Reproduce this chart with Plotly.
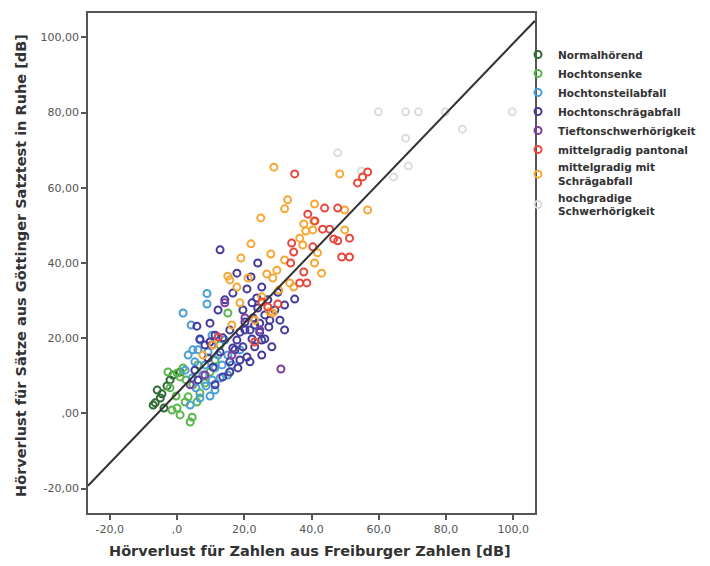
import plotly.graph_objects as go

# ---------------- data ----------------
groups = ["Normalhörend", "Hochtonsenke", "Hochtonsteilabfall", "Hochtonschrägabfall",
          "Tieftonschwerhörigkeit", "mittelgradig pantonal", "mittelgradig mit<br>Schrägabfall",
          "hochgradige<br>Schwerhörigkeit"]
colors = ["#2F6B35", "#5BB64C", "#4A9ED8", "#433A9B", "#7D3E9E", "#E8473D", "#F6A835", "#DCDCDC"]

normal_x = [-5.9, -4.5, -6.5, -3.9, -2.1, -1.2, -5.0, -7.1, -3.0, 0.9]
normal_y = [6.2, 5.2, 2.8, 1.4, 8.9, 10.2, 4.1, 2.2, 7.3, 11.0]

senke_x = [0.0, 1.8, 0.9, -2.1, 3.3, -1.5, 0.0, 4.5, 3.9, 0.9, 5.9, 2.4, 6.8, 8.3, 15.1,
           4.7, 9.8, 11.3, 6.2, 2.7, -0.3, -2.7, 12.8]
senke_y = [10.7, 12.1, 9.7, 6.8, 4.4, 0.9, 1.4, -1.0, -2.3, -0.4, 3.0, 3.0, 5.4, 8.1, 26.7,
           7.6, 11.0, 14.2, 12.9, 8.9, 4.6, 11.0, 18.2]

steil_x = [8.9, 8.9, 1.8, 4.2, 4.7, 6.8, 10.4, 14.2, 3.3, 6.2, 9.2, 12.2, 5.3, 8.3, 11.3,
           13.4, 2.4, 4.5, 7.7, 10.4, 12.8, 5.6, 8.6, 11.3, 6.8, 9.8, 3.9, 15.1, 16.3, 18.7, 15.1]
steil_y = [31.9, 29.1, 26.7, 23.5, 16.9, 19.5, 20.8, 19.5, 15.5, 16.9, 16.3, 15.5, 13.7, 12.9, 12.1,
           12.9, 11.5, 9.4, 10.2, 8.9, 9.4, 6.8, 7.3, 6.2, 4.1, 4.6, 2.2, 10.2, 12.9, 16.9, 15.5]

schraeg_x = [12.8, 24.0, 35.0, 17.8, 20.8, 16.6, 23.7, 22.3, 19.6, 24.0, 26.1, 22.6, 24.6, 20.2,
             21.7, 24.6, 27.3, 18.7, 15.7, 9.8, 5.9, 6.8, 13.6, 17.8, 22.3, 26.1, 28.2, 23.1,
             19.6, 12.8, 15.7, 10.7, 18.1, 13.6, 9.2, 20.8, 18.7, 15.7, 25.2, 27.6, 30.6, 32.0,
             29.1, 27.0, 30.0, 32.0, 11.3, 8.3, 5.3, 20.2, 23.1, 25.2, 21.7, 12.2, 14.2, 9.8,
             17.2, 6.2, 11.3, 16.6, 25.2, 22.0]
schraeg_y = [43.5, 40.0, 30.4, 37.3, 33.1, 32.0, 30.7, 29.4, 27.5, 28.0, 26.2, 25.4, 24.0, 24.3,
             22.2, 21.6, 23.0, 21.6, 22.2, 24.0, 23.2, 19.8, 20.1, 19.5, 19.8, 19.8, 17.7, 17.7,
             17.7, 16.3, 13.7, 12.3, 12.1, 9.7, 14.7, 15.0, 14.2, 11.0, 19.5, 24.8, 24.8, 22.2,
             27.5, 30.2, 32.2, 28.8, 20.8, 18.2, 11.5, 22.2, 23.5, 15.5, 13.7, 27.5, 30.2, 19.0,
             16.9, 8.9, 7.6, 17.4, 33.6, 36.3]

tief_x = [14.2, 30.9, 16.3, 10.4, 20.2, 3.9, 8.3, 24.6]
tief_y = [29.4, 11.8, 15.5, 18.2, 25.4, 7.6, 10.2, 22.2]

panton_x = [35.0, 56.7, 55.2, 53.7, 43.9, 47.8, 38.9, 41.0, 43.3, 45.4, 46.6, 47.8, 51.3, 34.1,
            40.4, 34.7, 49.0, 51.3, 33.8, 37.7, 38.6, 36.5, 30.0, 27.0, 12.2, 25.2, 23.1]
panton_y = [63.7, 64.2, 62.9, 61.3, 54.6, 54.6, 53.0, 51.2, 49.0, 49.0, 46.4, 45.9, 46.6, 45.3,
            44.3, 42.9, 41.6, 41.6, 40.0, 37.6, 34.7, 34.7, 29.1, 28.3, 20.3, 29.6, 19.0]

mitschr_x = [28.8, 48.4, 32.9, 32.0, 24.9, 40.9, 49.9, 56.7, 37.7, 40.7, 38.3, 40.4, 49.9, 36.5,
             37.4, 41.8, 22.0, 27.9, 19.0, 32.0, 40.9, 43.0, 29.7, 26.7, 15.1, 21.1, 28.5, 33.5,
             34.7, 30.3, 17.8, 18.7, 25.2, 28.5, 15.7, 7.7, 27.6, 23.1, 16.3, 10.7]
mitschr_y = [65.5, 63.7, 56.8, 54.4, 52.0, 55.7, 54.1, 54.1, 50.4, 51.2, 48.5, 48.8, 48.8, 46.6,
             44.8, 42.7, 45.1, 42.4, 41.3, 40.8, 40.0, 37.3, 38.1, 37.1, 36.5, 36.0, 36.0, 34.7,
             33.6, 32.8, 33.6, 29.4, 31.0, 26.7, 35.5, 15.5, 27.0, 24.8, 23.5, 18.2]

hoch_x = [59.9, 68.0, 71.8, 79.8, 99.7, 84.9, 68.0, 47.8, 68.8, 64.4, 54.9]
hoch_y = [80.2, 80.2, 80.2, 80.2, 80.2, 75.6, 73.2, 69.3, 65.8, 62.9, 64.5]

xs = [normal_x, senke_x, steil_x, schraeg_x, tief_x, panton_x, mitschr_x, hoch_x]
ys = [normal_y, senke_y, steil_y, schraeg_y, tief_y, panton_y, mitschr_y, hoch_y]

fit_intercept = 5.4
fit_slope = 0.93

x_ticks = [-20, 0, 20, 40, 60, 80, 100]
x_ticktext = ["-20,0", ",0", "20,0", "40,0", "60,0", "80,0", "100,0"]
y_ticks = [-20, 0, 20, 40, 60, 80, 100]
y_ticktext = ["-20,00", ",00", "20,00", "40,00", "60,00", "80,00", "100,00"]
axis_range = [-26.5, 106.5]

FONT = "DejaVu Sans, Liberation Sans, Arial"

# ---------------- figure ----------------
fig = go.Figure()
draw_order = [7, 0, 1, 2, 3, 4, 6, 5]
for i in range(len(groups)):
    fig.add_trace(go.Scatter(
        x=xs[i], y=ys[i], mode="markers", name=groups[i],
        marker=dict(symbol="circle-open", size=7, color=colors[i],
                    line=dict(width=2, color=colors[i])),
        legendrank=i + 1,
    ))
fig.data = tuple(fig.data[j] for j in draw_order)

fig.add_trace(go.Scatter(
    x=axis_range, y=[fit_intercept + fit_slope * v for v in axis_range],
    mode="lines", line=dict(color="#333333", width=2), showlegend=False,
    hoverinfo="skip"))

axis_common = dict(
    range=axis_range, showgrid=False, zeroline=False, showline=True, mirror=True,
    linecolor="#555555", linewidth=1.5, ticks="outside", ticklen=5, tickwidth=1.5,
    tickcolor="#555555", tickfont=dict(family=FONT, size=11, color="#555555"),
)
fig.update_xaxes(tickvals=x_ticks, ticktext=x_ticktext, **axis_common)
fig.update_yaxes(tickvals=y_ticks, ticktext=y_ticktext, **axis_common)

fig.update_layout(
    width=710, height=566,
    margin=dict(l=88, r=175, t=13, b=53, autoexpand=False),
    plot_bgcolor="white", paper_bgcolor="white",
    font=dict(family=FONT, color="#333333"),
    legend=dict(x=0.962, y=0.946, xanchor="left", yanchor="top",
                bgcolor="rgba(0,0,0,0)", tracegroupgap=0,
                font=dict(family=FONT, size=10.5, color="#333333", weight="bold")),
    annotations=[
        dict(text="Hörverlust für Zahlen aus Freiburger Zahlen [dB]", xref="paper", yref="paper",
             x=0.497, y=-0.076, xanchor="center", yanchor="middle", showarrow=False,
             font=dict(family=FONT, size=14.5, color="#333333", weight="bold")),
        dict(text="Hörverlust für Sätze aus Göttinger Satztest in Ruhe [dB]", xref="paper", yref="paper",
             x=-0.150, y=0.496, xanchor="center", yanchor="middle", showarrow=False, textangle=-90,
             font=dict(family=FONT, size=14.5, color="#333333", weight="bold")),
    ],
)

fig.write_html("out.html")
